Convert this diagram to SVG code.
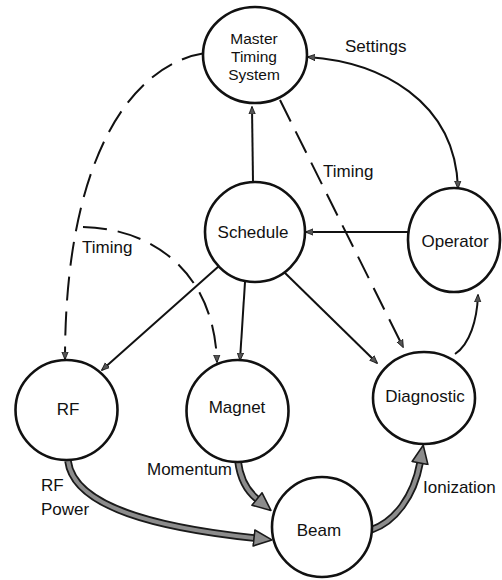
<svg xmlns="http://www.w3.org/2000/svg" width="502" height="580" viewBox="0 0 502 580">
<style>
.node{fill:#fff;stroke:#111;stroke-width:2.6}
.lbl{font-family:"Liberation Sans",Arial,sans-serif;font-size:17px;fill:#111}
.c{text-anchor:middle}
.mt{font-size:15.5px}
.thin{fill:none;stroke:#111;stroke-width:2}
.dash{stroke-dasharray:24 11}
.thickO{fill:none;stroke:#1a1a1a;stroke-width:7.5}
.thickI{fill:none;stroke:#8c8c8c;stroke-width:4}
</style>
<defs>
<marker id="ah" viewBox="0 0 10 10" refX="9" refY="5" markerWidth="8" markerHeight="8" markerUnits="userSpaceOnUse" orient="auto-start-reverse">
<path d="M0,1 L10,5 L0,9 z" fill="#555" stroke="#111" stroke-width="1"/>
</marker>
<marker id="big" viewBox="0 0 20 18" refX="1" refY="9" markerWidth="20" markerHeight="18" markerUnits="userSpaceOnUse" orient="auto">
<path d="M1,1 L19,9 L1,17 z" fill="#8c8c8c" stroke="#1a1a1a" stroke-width="1.6" stroke-linejoin="round"/>
</marker>
</defs>
<rect width="502" height="580" fill="#fff"/>
<g id="connectors">
<path class="thin" d="M253,182 L252,107" marker-end="url(#ah)"/>
<path class="thin" d="M308,57 C380,62 455,100 458,188" marker-start="url(#ah)" marker-end="url(#ah)"/>
<path class="thin" d="M408,232 L306,232" marker-end="url(#ah)"/>
<path class="thin" d="M455,354 C470,344 477,320 478,295" marker-end="url(#ah)"/>
<path class="thin" d="M219,266 L102,370" marker-end="url(#ah)"/>
<path class="thin" d="M245,282 L240,360" marker-end="url(#ah)"/>
<path class="thin" d="M284,272 L377,363" marker-end="url(#ah)"/>
<path class="thin dash" d="M205,53 C130,65 65,160 65,359" marker-end="url(#ah)"/>
<path class="thin dash" d="M83,227 C150,228 214,270 217,362" marker-end="url(#ah)"/>
<path class="thin dash" d="M280,100 L403,347" marker-end="url(#ah)"/>
<path class="thickO" d="M68,461 C74,508 160,528 254,538"/>
<path class="thickI" d="M68,461 C74,508 160,528 254,538" marker-end="url(#big)"/>
<path class="thickO" d="M238,461 C240,478 246,490 257,499"/>
<path class="thickI" d="M238,461 C240,478 246,490 257,499" marker-end="url(#big)"/>
<path class="thickO" d="M371,530 C395,522 414,496 420,463"/>
<path class="thickI" d="M371,530 C395,522 414,496 420,463" marker-end="url(#big)"/>
</g>
<g id="labels">
<text class="lbl" x="345" y="52">Settings</text>
<text class="lbl" x="323" y="177">Timing</text>
<text class="lbl" x="82" y="253">Timing</text>
<text class="lbl" x="41" y="491">RF</text>
<text class="lbl" x="41" y="515">Power</text>
<text class="lbl" x="232" y="475" text-anchor="end">Momentum</text>
<text class="lbl" x="423" y="493">Ionization</text>
</g>
<g id="mts">
<ellipse class="node" cx="255" cy="55" rx="52" ry="48"/>
<text class="lbl c mt" x="254" y="44">Master</text>
<text class="lbl c mt" x="254" y="62">Timing</text>
<text class="lbl c mt" x="254" y="80">System</text>
</g>
<g id="schedule">
<circle class="node" cx="255" cy="232" r="50"/>
<text class="lbl c" x="253" y="238">Schedule</text>
</g>
<g id="operator">
<ellipse class="node" cx="454" cy="240" rx="46" ry="52"/>
<text class="lbl c" x="455" y="247">Operator</text>
</g>
<g id="rf">
<ellipse class="node" cx="66.5" cy="410" rx="51" ry="50"/>
<text class="lbl c" x="68" y="415">RF</text>
</g>
<g id="magnet">
<circle class="node" cx="237.5" cy="411" r="51"/>
<text class="lbl c" x="237" y="413">Magnet</text>
</g>
<g id="beam">
<circle class="node" cx="322" cy="527" r="50"/>
<text class="lbl c" x="319" y="536">Beam</text>
</g>
<g id="diagnostic">
<ellipse class="node" cx="424" cy="398" rx="51" ry="46"/>
<text class="lbl c" x="425" y="402">Diagnostic</text>
</g>
</svg>
